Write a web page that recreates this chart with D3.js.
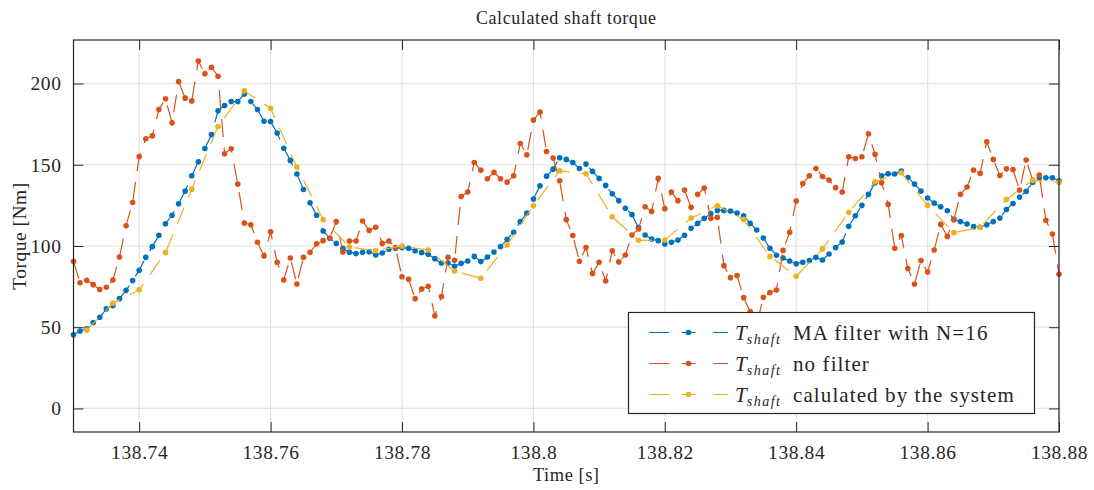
<!DOCTYPE html>
<meta charset="utf-8">
<style>
  body { margin: 0; background: #fff; }
  text { font-family: "Liberation Serif", "DejaVu Serif", serif; fill: #262626; }
</style>
<svg id="chart"></svg>
<script src="https://d3js.org/d3.v7.min.js"></script>
<script>

// sampling of the two 1 kHz signals
var sampleStart = 138.730
var sampleStep = 0.001

// MA filter with N=16
var maFiltered = [
  45.3, 47.7, 49.0, 52.9, 56.1, 61.3, 63.3, 67.6, 72.7, 78.7,
  85.0, 93.0, 99.6, 106.6, 113.7, 118.9, 126.0, 133.8, 143.2, 151.8,
  160.0, 168.6, 183.2, 186.5, 188.9, 188.9, 193.6, 188.9, 184.0, 176.8,
  176.6, 169.5, 160.2, 152.7, 144.3, 134.8, 126.6, 118.9, 109.2, 104.7,
  101.6, 98.6, 96.1, 95.3, 96.1, 96.5, 94.5, 95.7, 98.0, 98.6,
  99.0, 98.6, 97.1, 95.9, 94.9, 92.2, 89.5, 89.5, 87.5, 89.3,
  90.8, 93.6, 90.4, 93.2, 96.3, 99.6, 104.1, 108.4, 115.0, 120.3,
  128.9, 137.1, 143.0, 147.3, 154.3, 153.3, 151.4, 147.7, 150.4, 145.9,
  141.6, 137.3, 132.2, 127.9, 123.2, 119.3, 111.3, 106.8, 104.3, 103.3,
  101.2, 102.3, 103.7, 106.6, 110.9, 113.9, 117.0, 119.9, 121.9, 121.9,
  121.5, 120.3, 118.6, 113.9, 109.8, 104.9, 98.6, 94.3, 92.6, 90.8,
  89.1, 90.0, 91.0, 93.0, 91.4, 95.1, 99.0, 102.5, 112.1, 118.6,
  125.0, 131.8, 138.9, 143.2, 144.5, 144.3, 146.1, 142.2, 138.1, 133.8,
  129.5, 126.4, 124.2, 121.7, 116.4, 115.0, 113.5, 111.9, 111.5, 113.1,
  115.0, 117.2, 122.5, 126.2, 130.1, 133.6, 139.3, 142.0, 142.0, 142.0,
  140.2
]

// raw signal, no filter
var noFilter = [
  90.4, 77.3, 78.9, 76.2, 73.2, 74.6, 79.1, 93.2, 112.5, 126.8,
  155.1, 166.0, 167.8, 184.0, 190.6, 175.8, 201.2, 191.0, 189.3, 213.9,
  206.1, 210.0, 204.5, 156.8, 159.8, 138.1, 114.1, 113.1, 102.3, 93.9,
  108.8, 90.0, 79.1, 92.6, 76.6, 93.0, 96.1, 101.4, 103.3, 104.7,
  115.0, 96.3, 103.1, 103.1, 115.4, 109.6, 111.5, 101.6, 103.1, 99.0,
  81.1, 79.5, 67.6, 73.6, 75.2, 57.0, 68.9, 93.0, 91.2, 130.5,
  133.2, 151.4, 146.7, 141.4, 145.3, 141.4, 139.3, 143.2, 163.1, 156.1,
  177.5, 182.4, 158.2, 154.1, 140.2, 116.2, 106.4, 90.6, 99.0, 83.0,
  90.0, 78.5, 97.1, 90.2, 94.5, 106.8, 110.5, 124.2, 121.3, 141.6,
  123.0, 133.2, 127.9, 134.4, 123.8, 131.8, 135.7, 117.0, 117.6, 87.9,
  80.5, 81.8, 68.2, 59.6, 52.0, 68.4, 71.3, 72.9, 97.3, 108.4,
  127.7, 138.5, 143.2, 147.7, 142.8, 140.6, 135.9, 133.2, 154.9, 153.9,
  154.9, 169.1, 156.4, 138.9, 125.6, 98.6, 106.4, 86.1, 76.6, 91.0,
  84.0, 97.5, 113.3, 105.9, 116.2, 131.8, 136.3, 146.7, 144.7, 164.1,
  153.3, 143.4, 147.5, 147.1, 134.4, 152.9, 140.6, 143.6, 115.8, 107.4,
  82.6
]

// value reported by the system, every 4 ms
var systemStart = 138.728
var systemStep = 0.004
var systemValue = [
  38.6, 48.2, 64.8, 73.0, 95.9, 135.0, 173.6, 195.5, 184.8, 148.6,
  116.2, 99.4, 97.1, 100.0, 97.5, 84.6, 80.1, 100.6, 124.8, 146.3,
  144.5, 118.0, 103.5, 103.7, 117.2, 124.8, 116.4, 93.6, 81.4, 98.2,
  120.7, 139.5, 145.1, 125.0, 108.2, 111.5, 128.7, 140.4, 139.3
]

var xTicks = [138.74, 138.76, 138.78, 138.8, 138.82, 138.84, 138.86, 138.88]
var yTicks = [0, 50, 100, 150, 200]

var seriesNames = ["MA filter with N=16", "no filter", "calulated by the system"]
var seriesColors = ["#0072BD", "#D95319", "#EDB120"]

var width = 1094
var height = 490
// plot box (avoid the name "top", it is window.top)
var pLeft = 73.5, pRight = 1059, pTop = 40, pBottom = 432

var svg = d3.select("#chart")
    .attr("width", width)
    .attr("height", height)

var x = d3.scaleLinear().domain([138.73, 138.88]).range([pLeft, pRight])
var y = d3.scaleLinear().domain([-14.5, 226.8]).range([pBottom, pTop])

function toPoints(values, start, step) {
  return values.map(function(v, i) { return { t: start + i * step, v: v } })
}

var series = [
  toPoints(maFiltered, sampleStart, sampleStep),
  toPoints(noFilter, sampleStart, sampleStep),
  toPoints(systemValue, systemStart, systemStep)
]

svg.append("defs").append("clipPath").attr("id", "plotclip")
  .append("rect")
  .attr("x", pLeft).attr("y", pTop)
  .attr("width", pRight - pLeft).attr("height", pBottom - pTop)

// grid
var grid = svg.append("g")
grid.selectAll(".gx").data(xTicks).enter().append("line")
    .attr("x1", function(d) { return x(d) }).attr("x2", function(d) { return x(d) })
    .attr("y1", pTop).attr("y2", pBottom)
    .attr("stroke", "#e3e3e3").attr("stroke-width", 1.2)
grid.selectAll(".gy").data(yTicks).enter().append("line")
    .attr("x1", pLeft).attr("x2", pRight)
    .attr("y1", function(d) { return y(d) }).attr("y2", function(d) { return y(d) })
    .attr("stroke", "#e3e3e3").attr("stroke-width", 1.2)

// data
var line = d3.line()
    .x(function(d) { return x(d.t) })
    .y(function(d) { return y(d.v) })

var plot = svg.append("g")
series.forEach(function(pts, k) {
  plot.append("path")
      .datum(pts)
      .attr("clip-path", "url(#plotclip)")
      .attr("fill", "none")
      .attr("stroke", seriesColors[k])
      .attr("stroke-width", 1.2)
      .attr("stroke-dasharray", "18,11")
      .attr("d", line)
  plot.selectAll(".m" + k)
      .data(pts.filter(function(d) { return d.t >= 138.7299 && d.t <= 138.8801 }))
      .enter().append("circle")
      .attr("cx", function(d) { return x(d.t) })
      .attr("cy", function(d) { return y(d.v) })
      .attr("r", 2.8)
      .attr("fill", seriesColors[k])
})

// axes, MATLAB style: box with inward ticks on all four sides
var xAxisB = d3.axisBottom(x).tickValues(xTicks).tickSizeInner(-10).tickSizeOuter(0)
    .tickFormat(function(d) { return String(+d.toFixed(2)) })
var xAxisT = d3.axisTop(x).tickValues(xTicks).tickSizeInner(-10).tickSizeOuter(0).tickFormat("")
var yAxisL = d3.axisLeft(y).tickValues(yTicks).tickSizeInner(-10).tickSizeOuter(0)
var yAxisR = d3.axisRight(y).tickValues(yTicks).tickSizeInner(-10).tickSizeOuter(0).tickFormat("")

function style(g) {
  g.select(".domain").remove()
  g.selectAll(".tick line").attr("stroke", "#262626").attr("stroke-width", 1)
  g.selectAll(".tick text").attr("font-size", 19.5).attr("fill", "#262626")
      .attr("letter-spacing", 0.6)
}

svg.append("g").attr("transform", "translate(0," + pBottom + ")").call(xAxisB).call(style)
    .selectAll(".tick text").attr("y", 0).attr("dy", 27)
svg.append("g").attr("transform", "translate(0," + pTop + ")").call(xAxisT).call(style)
svg.append("g").attr("transform", "translate(" + pLeft + ",0)").call(yAxisL).call(style)
    .selectAll(".tick text").attr("x", -12)
svg.append("g").attr("transform", "translate(" + pRight + ",0)").call(yAxisR).call(style)

svg.append("rect")
    .attr("x", pLeft).attr("y", pTop)
    .attr("width", pRight - pLeft).attr("height", pBottom - pTop)
    .attr("fill", "none").attr("stroke", "#262626").attr("stroke-width", 1.2)

// labels
svg.append("text").attr("x", (pLeft + pRight) / 2).attr("y", 24)
    .attr("text-anchor", "middle").attr("font-size", 18).attr("letter-spacing", 0.6)
    .text("Calculated shaft torque")
svg.append("text").attr("x", (pLeft + pRight) / 2).attr("y", 481)
    .attr("text-anchor", "middle").attr("font-size", 18.5).attr("letter-spacing", 0.5)
    .text("Time [s]")
svg.append("text")
    .attr("transform", "translate(26," + (pTop + pBottom) / 2 + ") rotate(-90)")
    .attr("text-anchor", "middle").attr("font-size", 19.5).attr("letter-spacing", 0.5)
    .text("Torque [Nm]")

// legend
var lx = 628.5, ly = 312.5, lw = 406, lh = 101
var legend = svg.append("g")
legend.append("rect")
    .attr("x", lx).attr("y", ly).attr("width", lw).attr("height", lh)
    .attr("fill", "#fff").attr("stroke", "#262626").attr("stroke-width", 1.2)

seriesNames.forEach(function(name, k) {
  var rowY = 332.5 + k * 31
  var g = legend.append("g")
  g.append("line")
      .attr("x1", 649).attr("x2", 728).attr("y1", rowY).attr("y2", rowY)
      .attr("stroke", seriesColors[k]).attr("stroke-width", 1.2)
      .attr("stroke-dasharray", "20,12.5,14,17.5,15")
  g.append("circle").attr("cx", 688.5).attr("cy", rowY).attr("r", 2.8)
      .attr("fill", seriesColors[k])
  var t = g.append("text").attr("x", 735).attr("y", rowY + 7).attr("font-size", 21)
  t.append("tspan").attr("font-style", "italic").text("T")
  t.append("tspan").attr("font-style", "italic").attr("font-size", 14)
      .attr("letter-spacing", 1.5).attr("dy", 4).text("shaft")
  t.append("tspan").attr("dy", -4).attr("x", 793).attr("letter-spacing", 1.1).text(name)
})

</script>
